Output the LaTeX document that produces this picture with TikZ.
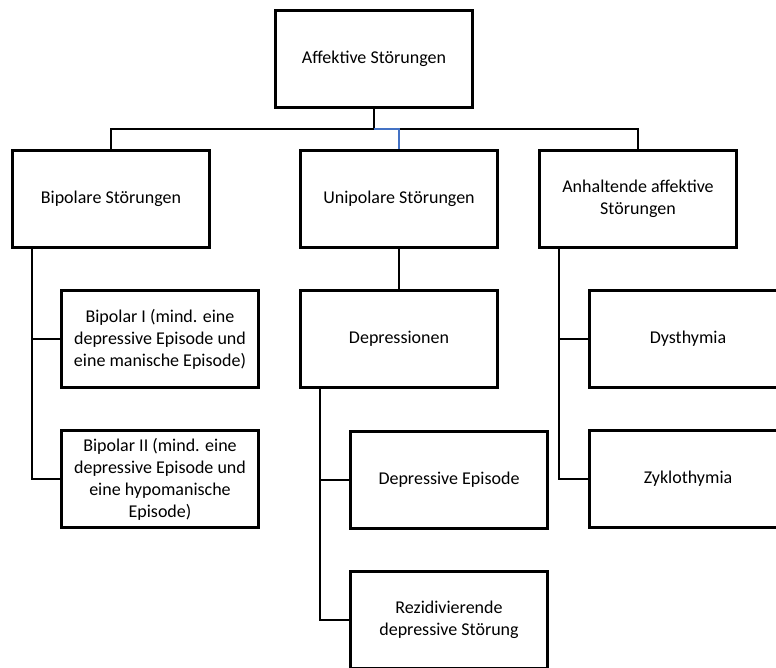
\documentclass[tikz,border=0pt]{standalone}
\usepackage{fontspec}
\setmainfont{Carlito}
\usepackage{tikz}
\definecolor{linkblue}{HTML}{4472C4}

\begin{document}
\begin{tikzpicture}
        [x=1pt,y=-1pt,line width=2.4pt,
         every node/.style={draw,line width=2.8pt,minimum width=197pt,minimum height=97pt,
           align=center,font=\fontsize{18}{22}\selectfont}]
        \useasboundingbox (0,0) rectangle (776,668);
        \clip (0,0) rectangle (776,668);

        \node (a) at (374, 59) {Affektive Störungen};
        \node (b1) at (111, 199) {Bipolare Störungen};
        \node (b2) at (399, 199) {Unipolare Störungen};
        \node (b3) at (638, 199) {Anhaltende affektive\\Störungen};

        \node (c1) at (160, 339) {Bipolar I (mind. eine\\depressive Episode und\\eine manische Episode)};
        \node (c2) at (160, 479) {Bipolar II (mind. eine\\depressive Episode und\\eine hypomanische\\Episode)};

        \node (d1) at (399, 339) {Depressionen};
        \node (d2) at (449, 480) {Depressive Episode};
        \node (d3) at (449, 620) {Rezidivierende\\depressive Störung};

        \node (e1) at (688, 339) {Dysthymia};
        \node (e2) at (688, 479) {Zyklothymia};

        \coordinate (bus) at (374, 129);
        \draw (a) -- (bus);
        \draw (b1.north) |- (bus) -| (b3.north);
        \draw[linkblue] (bus) -| (b2.north);
        \draw (b2) -- (d1);

        \foreach \from/\to in {b1/c1, b1/c2, d1/d2, d1/d3, b3/e1, b3/e2}
            \draw (\from.south west) ++(21,0) |- (\to.west);

      \end{tikzpicture}
\end{document}
